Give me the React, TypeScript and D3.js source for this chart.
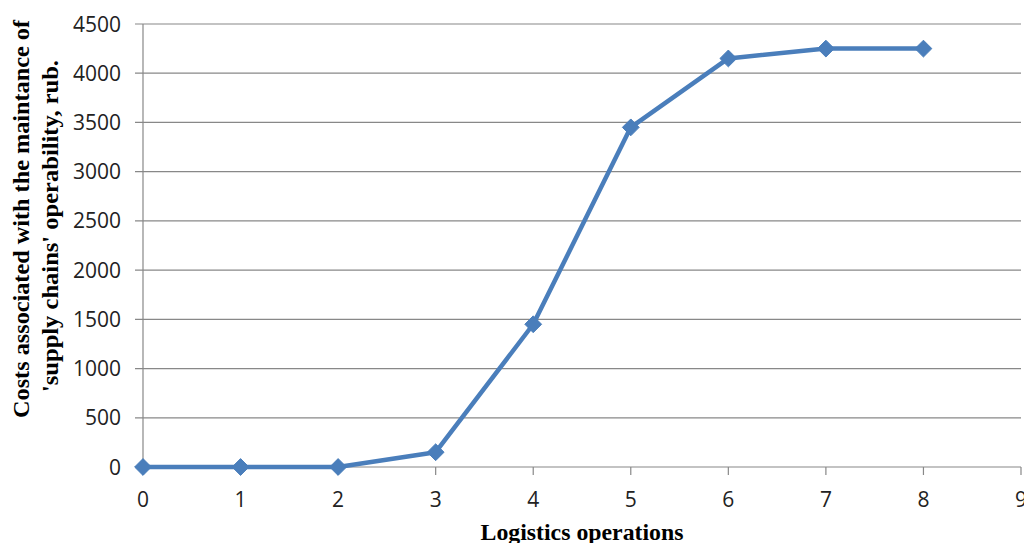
import React from "react";
import * as d3 from "d3";

const operations = [0, 1, 2, 3, 4, 5, 6, 7, 8];
const costs = [0, 0, 0, 150, 1450, 3450, 4150, 4250, 4250];
const yTicks = [0, 500, 1000, 1500, 2000, 2500, 3000, 3500, 4000, 4500];
const xTicks = [0, 1, 2, 3, 4, 5, 6, 7, 8, 9];

const yTitleLines = [
  "Costs associated with the maintance of",
  "'supply chains' operability, rub.",
];
const xTitle = "Logistics operations";

export default function App() {
  const width = 1024;
  const height = 543;
  const left = 143;
  const right = 1021;
  const top = 24;
  const bottom = 467;

  const x = d3.scaleLinear().domain([0, 9]).range([left, right]);
  const y = d3.scaleLinear().domain([0, 4500]).range([bottom, top]);

  const line = d3
    .line<number>()
    .x((_, i) => x(operations[i]))
    .y((d) => y(d));

  const diamond = d3.symbol().type(d3.symbolDiamond2).size(180)();

  const tickFont = "'Open Sans', 'Liberation Sans', sans-serif";
  const titleFont = "'Liberation Serif', 'Times New Roman', serif";
  const gridColor = "#888888";
  const lineColor = "#4a7ebb";

  return (
    <svg
      width={width}
      height={height}
      style={{ position: "absolute", left: 0, top: 0, background: "#fff" }}
    >
      {/* horizontal gridlines with left tick stubs */}
      {yTicks.map((t) => (
        <line
          key={"g" + t}
          x1={left - 8}
          x2={right}
          y1={y(t)}
          y2={y(t)}
          stroke={gridColor}
          strokeWidth={1.2}
        />
      ))}
      {/* y axis */}
      <line x1={left} x2={left} y1={top} y2={bottom} stroke={gridColor} strokeWidth={1.2} />
      {/* x tick marks */}
      {xTicks.map((t) => (
        <line
          key={"xt" + t}
          x1={x(t)}
          x2={x(t)}
          y1={bottom}
          y2={bottom + 8}
          stroke={gridColor}
          strokeWidth={1.2}
        />
      ))}
      {/* y tick labels */}
      {yTicks.map((t) => (
        <text
          key={"yl" + t}
          x={left - 22}
          y={y(t)}
          dy="0.36em"
          textAnchor="end"
          fontFamily={tickFont}
          fontSize={21}
          fill="#222"
        >
          {t}
        </text>
      ))}
      {/* x tick labels */}
      {xTicks.map((t) => (
        <text
          key={"xl" + t}
          x={x(t)}
          y={bottom + 32}
          dy="0.36em"
          textAnchor="middle"
          fontFamily={tickFont}
          fontSize={21}
          fill="#222"
        >
          {t}
        </text>
      ))}
      {/* series line */}
      <path
        d={line(costs) || ""}
        fill="none"
        stroke={lineColor}
        strokeWidth={4.5}
        strokeLinejoin="round"
      />
      {costs.map((c, i) => (
        <path
          key={"m" + i}
          d={diamond || ""}
          transform={`translate(${x(operations[i])},${y(c)})`}
          fill={lineColor}
          stroke={lineColor}
          strokeWidth={1}
        />
      ))}
      {/* axis titles */}
      <text
        transform={`translate(29,219) rotate(-90)`}
        textAnchor="middle"
        fontFamily={titleFont}
        fontWeight="bold"
        fontSize={23}
        textLength={398}
        lengthAdjust="spacingAndGlyphs"
        fill="#000"
      >
        {yTitleLines[0]}
      </text>
      <text
        transform={`translate(58,226) rotate(-90)`}
        textAnchor="middle"
        fontFamily={titleFont}
        fontWeight="bold"
        fontSize={23}
        textLength={332}
        lengthAdjust="spacingAndGlyphs"
        fill="#000"
      >
        {yTitleLines[1]}
      </text>
      <text
        x={582}
        y={540}
        textAnchor="middle"
        fontFamily={titleFont}
        fontWeight="bold"
        fontSize={23}
        textLength={203}
        lengthAdjust="spacingAndGlyphs"
        fill="#000"
      >
        {xTitle}
      </text>
    </svg>
  );
}
